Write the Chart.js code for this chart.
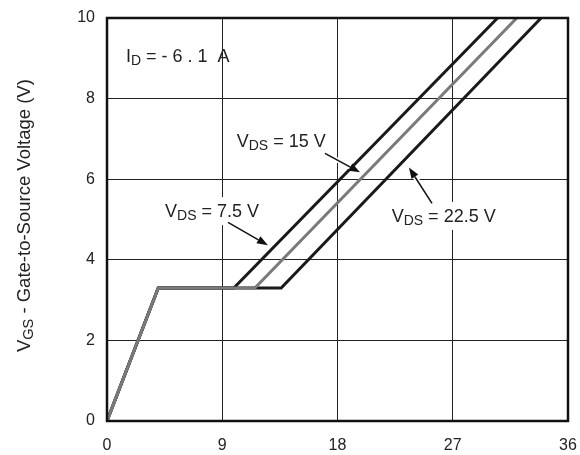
<!DOCTYPE html>
<html><head><meta charset="utf-8">
<script src="https://cdn.jsdelivr.net/npm/chart.js@4"></script>
<style>html,body{margin:0;padding:0;background:#fff}#wrap{width:580px;height:455px}</style>
</head><body><div id="wrap"><canvas id="c" width="580" height="455"></canvas></div>
<script>
// Gate charge (nC) vs gate-to-source voltage (V)
const gateCharge75 = [0, 4.0, 9.9, 30.5];
const gateCharge15 = [0, 4.0, 11.55, 32.0];
const gateCharge225 = [0, 4.0, 13.6, 33.9];
const vgsValues = [0, 3.3, 3.3, 10];
const xTicks = [0, 9, 18, 27, 36];
const yTicks = [0, 2, 4, 6, 8, 10];
const seriesNames = ['VDS = 7.5 V', 'VDS = 15 V', 'VDS = 22.5 V'];

const FONT = '"Liberation Sans", Arial, Helvetica, sans-serif';

function pts(xs) { return xs.map((x, i) => ({x: x, y: vgsValues[i]})); }

// annotations in data units
const labels = [
  {main: 'I', sub: 'D', rest: ' = - 6 . 1  A', x: 1.48, y: 8.91, box: false},
  {main: 'V', sub: 'DS', rest: ' = 15 V', x: 10.13, y: 6.80, box: true},
  {main: 'V', sub: 'DS', rest: ' = 7.5 V', x: 4.53, y: 5.06, box: true},
  {main: 'V', sub: 'DS', rest: ' = 22.5 V', x: 22.23, y: 4.94, box: true}
];
const arrows = [
  {x1: 17.02, y1: 6.64, x2: 19.76, y2: 6.17},
  {x1: 9.45, y1: 4.93, x2: 12.57, y2: 4.36},
  {x1: 25.38, y1: 5.40, x2: 23.58, y2: 6.29}
];

function drawSub(ctx, x, y, l, fs, ss, dy, measureOnly) {
  ctx.font = fs + 'px ' + FONT;
  const w1 = ctx.measureText(l.main).width;
  ctx.font = ss + 'px ' + FONT;
  const w2 = ctx.measureText(l.sub).width;
  ctx.font = fs + 'px ' + FONT;
  const w3 = ctx.measureText(l.rest).width;
  if (!measureOnly) {
    ctx.font = fs + 'px ' + FONT;
    ctx.fillText(l.main, x, y);
    ctx.font = ss + 'px ' + FONT;
    ctx.fillText(l.sub, x + w1, y + dy);
    ctx.font = fs + 'px ' + FONT;
    ctx.fillText(l.rest, x + w1 + w2, y);
  }
  return w1 + w2 + w3;
}

const annotPlugin = {
  id: 'annot',
  afterDatasetsDraw(chart) {
    const ctx = chart.ctx;
    const xs = chart.scales.x, ys = chart.scales.y;
    const a = chart.chartArea;
    ctx.save();
    ctx.strokeStyle = '#111';
    ctx.lineWidth = 2.5;
    ctx.strokeRect(a.left, a.top, a.right - a.left, a.bottom - a.top);
    ctx.restore();

    ctx.save();
    ctx.textBaseline = 'alphabetic';
    ctx.textAlign = 'left';
    labels.forEach(l => {
      const px = xs.getPixelForValue(l.x), py = ys.getPixelForValue(l.y);
      const w = drawSub(ctx, px, py, l, 18, 14, 3, true);
      if (l.box) {
        ctx.fillStyle = '#fff';
        ctx.fillRect(px - 3, py - 20, w + 6, 28);
      }
      ctx.fillStyle = '#222';
      drawSub(ctx, px, py, l, 18, 14, 3, false);
    });
    arrows.forEach(r => {
      const x1 = xs.getPixelForValue(r.x1), y1 = ys.getPixelForValue(r.y1);
      const x2 = xs.getPixelForValue(r.x2), y2 = ys.getPixelForValue(r.y2);
      const ang = Math.atan2(y2 - y1, x2 - x1);
      const hl = 11, hw = 4;
      const bx = x2 - hl * Math.cos(ang), by = y2 - hl * Math.sin(ang);
      ctx.strokeStyle = '#fff';
      ctx.lineWidth = 5;
      ctx.beginPath(); ctx.moveTo(x1, y1); ctx.lineTo(bx, by); ctx.stroke();
      ctx.strokeStyle = '#111';
      ctx.lineWidth = 1.5;
      ctx.beginPath(); ctx.moveTo(x1, y1); ctx.lineTo(bx, by); ctx.stroke();
      ctx.fillStyle = '#111';
      ctx.beginPath();
      ctx.moveTo(x2, y2);
      ctx.lineTo(bx + hw * Math.sin(ang), by - hw * Math.cos(ang));
      ctx.lineTo(bx - hw * Math.sin(ang), by + hw * Math.cos(ang));
      ctx.closePath();
      ctx.fill();
    });
    ctx.restore();
  },
  afterDraw(chart) {
    const ctx = chart.ctx;
    const t = {main: 'V', sub: 'GS', rest: ' - Gate-to-Source Voltage (V)'};
    ctx.save();
    ctx.translate(30, 352);
    ctx.rotate(-Math.PI / 2);
    ctx.fillStyle = '#222';
    ctx.textBaseline = 'alphabetic';
    drawSub(ctx, 0, 0, t, 18.5, 14.5, 3, false);
    ctx.restore();
  }
};

new Chart(document.getElementById('c'), {
  type: 'line',
  data: {
    datasets: [
      {label: seriesNames[0], data: pts(gateCharge75), borderColor: '#1a1a1a', borderWidth: 3, order: 2},
      {label: seriesNames[1], data: pts(gateCharge15), borderColor: '#7a7a7a', borderWidth: 3, order: 0},
      {label: seriesNames[2], data: pts(gateCharge225), borderColor: '#1a1a1a', borderWidth: 3, order: 1}
    ]
  },
  options: {
    responsive: false,
    devicePixelRatio: 1,
    animation: false,
    elements: {point: {radius: 0}, line: {tension: 0, fill: false, borderCapStyle: 'butt', borderJoinStyle: 'miter'}},
    layout: {padding: {top: 18, right: 12, left: 0, bottom: 0}},
    plugins: {legend: {display: false}, tooltip: {enabled: false}},
    scales: {
      x: {
        type: 'linear', min: 0, max: 36,
        afterBuildTicks: s => { s.ticks = xTicks.map(v => ({value: v})); },
        afterFit: s => { s.height = 34; s.paddingLeft = 0; s.paddingRight = 0; },
        grid: {color: '#222', lineWidth: 1, drawTicks: false},
        border: {display: false},
        ticks: {padding: 15, color: '#222', font: {family: FONT, size: 16}}
      },
      y: {
        type: 'linear', min: 0, max: 10,
        afterBuildTicks: s => { s.ticks = yTicks.map(v => ({value: v})); },
        afterFit: s => { s.width = 107; s.paddingTop = 0; s.paddingBottom = 0; },
        grid: {color: '#222', lineWidth: 1, drawTicks: false},
        border: {display: false},
        ticks: {padding: 12, color: '#222', font: {family: FONT, size: 16}}
      }
    }
  },
  plugins: [annotPlugin]
});
</script></body></html>
